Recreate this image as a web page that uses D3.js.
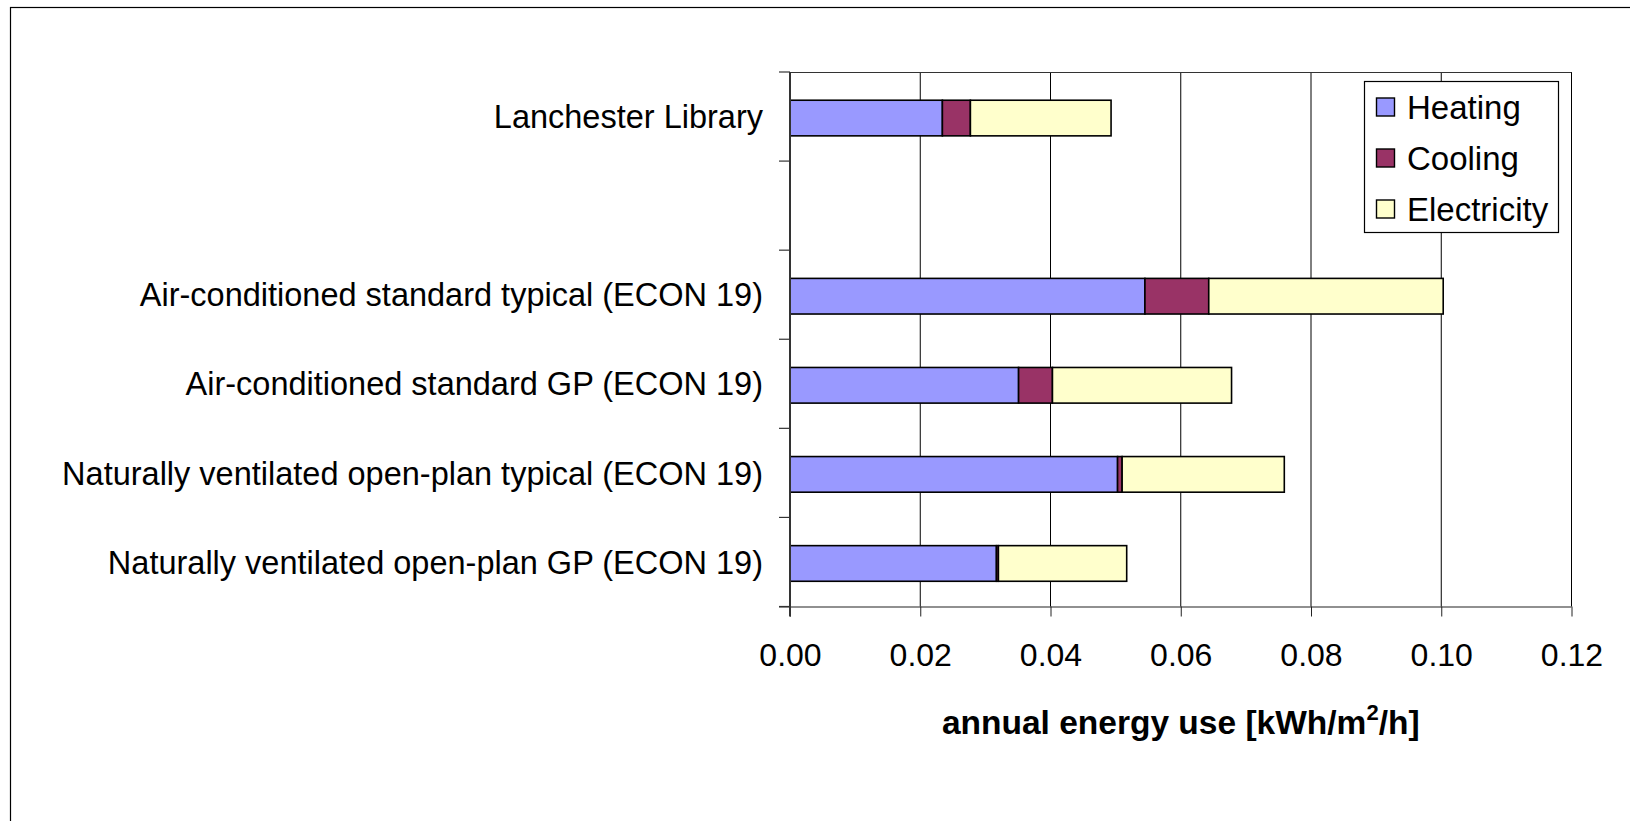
<!DOCTYPE html>
<html>
<head>
<meta charset="utf-8">
<script src="https://cdn.jsdelivr.net/npm/d3@7"></script>
<style>
  html, body { margin: 0; padding: 0; background: #fff; }
  svg { display: block; }
  text { font-family: "Liberation Sans", Arial, sans-serif; fill: #000; }
</style>
</head>
<body>
<svg id="chart" width="1630" height="821"></svg>
<script>
// Building categories, top to bottom (the empty entry is a spacer row)
const categories = [
  "Lanchester Library",
  "",
  "Air-conditioned standard typical (ECON 19)",
  "Air-conditioned standard GP (ECON 19)",
  "Naturally ventilated open-plan typical (ECON 19)",
  "Naturally ventilated open-plan GP (ECON 19)"
];

// Annual energy use per end use [kWh/m2/h]
const heating     = [0.0234, null, 0.0545, 0.0351, 0.0503, 0.0317];
const cooling     = [0.0043, null, 0.0098, 0.0052, 0.0007, 0.0003];
const electricity = [0.0216, null, 0.0360, 0.0275, 0.0249, 0.0197];

const seriesNames  = ["Heating", "Cooling", "Electricity"];
const seriesColors = ["#9999FF", "#993366", "#FFFFCC"];

const xTicks = [0, 0.02, 0.04, 0.06, 0.08, 0.10, 0.12];
const xTitle = "annual energy use [kWh/m";

const svg = d3.select("#chart");

// Outer chart frame
svg.append("rect")
  .attr("x", 10.5).attr("y", 7.5)
  .attr("width", 1660).attr("height", 840)
  .attr("fill", "none").attr("stroke", "#000").attr("stroke-width", 1.2);

const plot = { left: 790, top: 72, right: 1571.5, bottom: 606.5 };

const x = d3.scaleLinear().domain([0, 0.12]).range([plot.left, plot.right]);
const y = d3.scaleBand().domain(categories)
  .range([plot.top, plot.bottom])
  .paddingInner(0.6).paddingOuter(0.3);

// Vertical gridlines
svg.append("g").selectAll("line")
  .data(xTicks.slice(1))
  .join("line")
  .attr("x1", d => x(d)).attr("x2", d => x(d))
  .attr("y1", plot.top).attr("y2", plot.bottom)
  .attr("stroke", "#000").attr("stroke-width", 1);

// Top border of the plot area
svg.append("line")
  .attr("x1", plot.left).attr("x2", plot.right)
  .attr("y1", plot.top + 0.5).attr("y2", plot.top + 0.5)
  .attr("stroke", "#333").attr("stroke-width", 1);

// Stacked bars
const rows = categories.map((c, i) => ({
  cat: c, Heating: heating[i], Cooling: cooling[i], Electricity: electricity[i]
})).filter(r => r.Heating !== null);

const stack = d3.stack().keys(seriesNames)(rows);
const barShift = 1.5;

svg.append("g").selectAll("g")
  .data(stack)
  .join("g")
  .attr("fill", (d, i) => seriesColors[i])
  .selectAll("rect")
  .data(d => d)
  .join("rect")
  .attr("x", d => x(d[0]))
  .attr("y", d => y(d.data.cat) + barShift)
  .attr("width", d => x(d[1]) - x(d[0]))
  .attr("height", y.bandwidth())
  .attr("stroke", "#000").attr("stroke-width", 1.6);

// X axis
const xAxis = d3.axisBottom(x)
  .tickValues(xTicks)
  .tickFormat(d3.format(".2f"))
  .tickSize(10).tickSizeOuter(0).tickPadding(27);

const gx = svg.append("g")
  .attr("transform", `translate(0,${plot.bottom})`)
  .call(xAxis);
gx.select(".domain").attr("stroke", "#222").attr("stroke-width", 1.2)
  .attr("d", `M${plot.left - 11},0.5H${plot.right}`);
gx.selectAll(".tick line").attr("stroke", "#222");
gx.selectAll(".tick text")
  .attr("font-size", 32)
  .attr("font-family", "'Liberation Sans', Arial, sans-serif")
  .attr("fill", "#000");

// Y axis: category labels and ticks at row boundaries
const gy = svg.append("g")
  .attr("transform", `translate(${plot.left},0)`)
  .call(d3.axisLeft(y).tickSize(0).tickPadding(27));
gy.select(".domain").remove();
gy.selectAll(".tick text")
  .attr("font-size", 32.5)
  .attr("font-family", "'Liberation Sans', Arial, sans-serif")
  .attr("fill", "#000")
  .attr("dy", "0.36em");

const boundaries = d3.range(categories.length + 1).map(i => plot.top + i * y.step());
svg.append("g").selectAll("line")
  .data(boundaries)
  .join("line")
  .attr("x1", plot.left - 11).attr("x2", plot.left)
  .attr("y1", d => d).attr("y2", d => d)
  .attr("stroke", "#333").attr("stroke-width", 1.2);

svg.append("line")
  .attr("x1", plot.left).attr("x2", plot.left)
  .attr("y1", plot.top).attr("y2", plot.bottom + 10)
  .attr("stroke", "#333").attr("stroke-width", 2);

// X axis title with superscript
const title = svg.append("text")
  .attr("x", (plot.left + plot.right) / 2)
  .attr("y", 734)
  .attr("text-anchor", "middle")
  .attr("font-size", 33.5)
  .attr("font-weight", "bold");
title.append("tspan").text(xTitle);
title.append("tspan").text("2").attr("font-size", 22).attr("dy", -14);
title.append("tspan").text("/h]").attr("dy", 14);

// Legend
const legend = svg.append("g");
legend.append("rect")
  .attr("x", 1364.5).attr("y", 81.5)
  .attr("width", 194).attr("height", 151)
  .attr("fill", "#fff").attr("stroke", "#000").attr("stroke-width", 1.2);

const items = legend.selectAll("g.item")
  .data(seriesNames)
  .join("g")
  .attr("class", "item")
  .attr("transform", (d, i) => `translate(0,${107 + i * 51})`);

items.append("rect")
  .attr("x", 1376.5).attr("y", -9)
  .attr("width", 18).attr("height", 18)
  .attr("fill", (d, i) => seriesColors[i])
  .attr("stroke", "#000").attr("stroke-width", 1.4);

items.append("text")
  .attr("x", 1407)
  .attr("dy", "0.35em")
  .attr("font-size", 33)
  .text(d => d);
</script>
</body>
</html>
